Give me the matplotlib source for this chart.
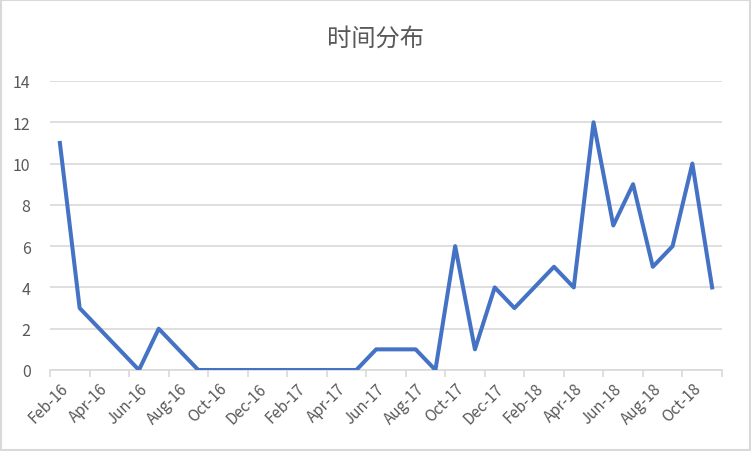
import matplotlib
matplotlib.use('Agg')
import numpy as np
from matplotlib import pyplot as plt
from matplotlib.patches import Rectangle

plt.rcParams['font.family'] = ['Noto Sans CJK SC', 'DejaVu Sans']

months = ['Feb-16', 'Mar-16', 'Apr-16', 'May-16', 'Jun-16', 'Jul-16', 'Aug-16', 'Sep-16',
          'Oct-16', 'Nov-16', 'Dec-16', 'Jan-17', 'Feb-17', 'Mar-17', 'Apr-17', 'May-17',
          'Jun-17', 'Jul-17', 'Aug-17', 'Sep-17', 'Oct-17', 'Nov-17', 'Dec-17', 'Jan-18',
          'Feb-18', 'Mar-18', 'Apr-18', 'May-18', 'Jun-18', 'Jul-18', 'Aug-18', 'Sep-18',
          'Oct-18', 'Nov-18']
counts = [11, 3, 2, 1, 0, 2, 1, 0,
          0, 0, 0, 0, 0, 0, 0, 0,
          1, 1, 1, 0, 6, 1, 4, 3,
          4, 5, 4, 12, 7, 9, 5, 6,
          10, 4]
title = '时间分布'

grey = '#595959'
grid = '#D9D9D9'

fig = plt.figure(figsize=(7.51, 4.52), dpi=100)
ax = fig.add_axes([50/751, 81/452, 672/751, 289/452])

x = np.arange(len(months))
ax.plot(x, counts, color='#4472C4', linewidth=2.9, solid_joinstyle='round', zorder=3)

ax.set_xlim(-0.5, len(months) - 0.5)
ax.set_ylim(0, 14)
ax.set_yticks(range(0, 15, 2))
ax.grid(axis='y', color=grid, linewidth=1.2)
ax.set_axisbelow(True)

ax.set_xticks(x[::2])
ax.set_xticklabels(months[::2], rotation=45, ha='right', rotation_mode='anchor')
ax.set_xticks(np.arange(-0.5, len(months), 2), minor=True)
ax.tick_params(axis='x', which='major', length=0, pad=7, labelsize=11, labelcolor=grey)
ax.tick_params(axis='x', which='minor', length=5, color=grid, width=1.2)
ax.tick_params(axis='y', length=0, pad=14, labelsize=11.5, labelcolor=grey)

for s in ['top', 'right', 'left']:
    ax.spines[s].set_visible(False)
ax.spines['bottom'].set_color(grid)
ax.spines['bottom'].set_linewidth(1.2)

fig.text(0.5, 1 - 39/452, title, ha='center', va='center', fontsize=17.5, color=grey)
fig.patches.append(Rectangle((1/751, 1/452), 749/751, 450/452, transform=fig.transFigure,
                             fill=False, edgecolor=grid, linewidth=1.5))

plt.savefig('out.png', dpi=100)
